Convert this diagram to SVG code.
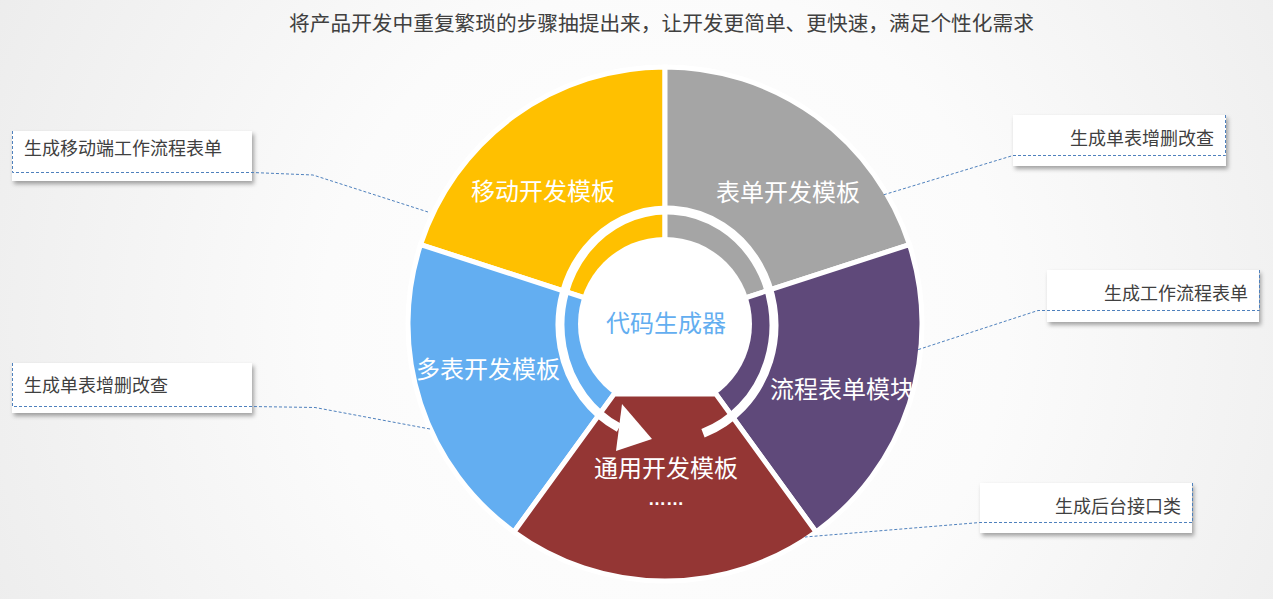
<svg xmlns="http://www.w3.org/2000/svg" width="1273" height="599" viewBox="0 0 1273 599">
  <defs>
    <radialGradient id="bg" cx="665" cy="324" r="760" gradientUnits="userSpaceOnUse">
      <stop offset="0" stop-color="#ffffff"/>
      <stop offset="0.45" stop-color="#fbfbfb"/>
      <stop offset="1" stop-color="#ececec"/>
    </radialGradient>
    <filter id="shadow" x="-10%" y="-20%" width="125%" height="160%">
      <feDropShadow dx="2" dy="3" stdDeviation="2" flood-color="#000" flood-opacity="0.35"/>
    </filter>
  </defs>
  <style>
    .sector { stroke: #ffffff; stroke-width: 5; stroke-linejoin: miter; }
    .label { font-family: "Noto Sans CJK SC", "Noto Sans", sans-serif; font-size: 24px; fill: #ffffff; text-anchor: middle; }
    .box { fill: #ffffff; filter: url(#shadow); }
    .btext { font-family: "Noto Sans CJK SC", "Noto Sans", sans-serif; font-size: 18px; fill: #404040; }
    .dash { fill: none; stroke: #4f81bd; stroke-width: 1; stroke-dasharray: 3 2; }
    .title { font-family: "Noto Sans CJK SC", "Noto Sans", sans-serif; font-size: 20.7px; fill: #404040; text-anchor: middle; }
  </style>
  <rect x="0" y="0" width="1273" height="599" fill="url(#bg)"/>
  <text class="title" x="661.5" y="31">将产品开发中重复繁琐的步骤抽提出来，让开发更简单、更快速，满足个性化需求</text>

  <g id="sector-mobile">
    <path class="sector" fill="#FFC000" d="M665 324 L420.58 244.58 A257 257 0 0 1 665 67 Z"/>
  </g>
  <g id="sector-form">
    <path class="sector" fill="#A5A5A5" d="M665 324 L665 67 A257 257 0 0 1 909.42 244.58 Z"/>
  </g>
  <g id="sector-flow">
    <path class="sector" fill="#5F497A" d="M665 324 L909.42 244.58 A257 257 0 0 1 816.06 531.92 Z"/>
  </g>
  <g id="sector-multi">
    <path class="sector" fill="#63AEF1" d="M665 324 L513.94 531.92 A257 257 0 0 1 420.58 244.58 Z"/>
  </g>
  <g id="center">
    <circle cx="665" cy="324" r="87" fill="#ffffff"/>
  </g>
  <g id="sector-general">
    <path class="sector" fill="#943634" d="M715.9 394 L816.06 531.92 A257 257 0 0 1 513.94 531.92 L614.1 394 Z"/>
  </g>
  <g id="cycle-arrow">
    <path d="M703 433.3 A107 115 0 1 0 619 427.8" fill="none" stroke="#ffffff" stroke-width="9"/>
    <polygon points="622,404 616,451 652,439" fill="#ffffff"/>
  </g>
  <g id="labels">
    <text class="label" x="543" y="200">移动开发模板</text>
    <text class="label" x="788" y="201">表单开发模板</text>
    <text class="label" x="488" y="378">多表开发模板</text>
    <text class="label" x="842" y="398">流程表单模块</text>
    <text class="label" x="666" y="477">通用开发模板</text>
    <text x="666" y="505" font-family="Liberation Sans, sans-serif" font-size="18" font-weight="bold" fill="#ffffff" text-anchor="middle">……</text>
    <text x="666" y="332" font-family="Noto Sans CJK SC, Noto Sans, sans-serif" font-size="24" fill="#63AEF0" text-anchor="middle">代码生成器</text>
  </g>

  <g id="callout-mobile">
    <rect class="box" x="12" y="131" width="240" height="50"/>
    <text class="btext" x="24" y="155">生成移动端工作流程表单</text>
  </g>
  <g id="callout-multi">
    <rect class="box" x="12" y="363" width="240" height="50"/>
    <text class="btext" x="24" y="392">生成单表增删改查</text>
  </g>
  <g id="callout-form">
    <rect class="box" x="1013" y="115" width="213" height="51"/>
    <text class="btext" x="1214" y="145" text-anchor="end">生成单表增删改查</text>
  </g>
  <g id="callout-flow">
    <rect class="box" x="1047" y="270" width="212" height="52"/>
    <text class="btext" x="1248" y="300" text-anchor="end">生成工作流程表单</text>
  </g>
  <g id="callout-general">
    <rect class="box" x="980" y="483" width="212" height="50"/>
    <text class="btext" x="1181" y="513" text-anchor="end">生成后台接口类</text>
  </g>

  <g id="connectors">
    <polyline class="dash" points="12.5,131 12.5,172.5 252,172.5 313,175 428,212"/>
    <polyline class="dash" points="12.5,363 12.5,406.5 252,406.5 315,407.5 430,429"/>
    <polyline class="dash" points="1225.5,115 1225.5,155.5 1013,155.5 883,195"/>
    <polyline class="dash" points="1259.5,270 1259.5,310.5 1038,310.5 917,350"/>
    <polyline class="dash" points="1192.5,483 1192.5,522.5 980,522.5 805,537"/>
  </g>
</svg>
